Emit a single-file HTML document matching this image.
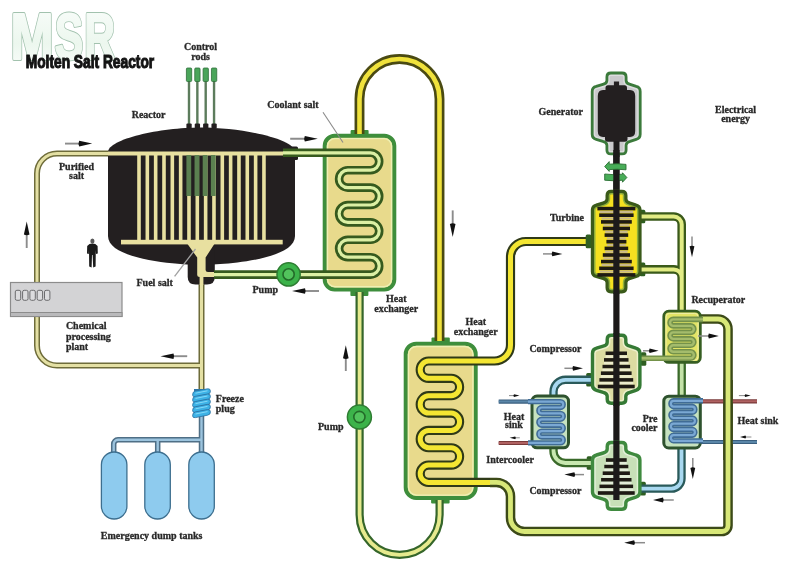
<!DOCTYPE html>
<html><head><meta charset="utf-8"><style>
html,body{margin:0;padding:0;background:#fff;width:810px;height:576px;overflow:hidden;font-family:"Liberation Serif",serif;}
svg{display:block;will-change:transform;}
</style></head><body>
<svg width="810" height="576" viewBox="0 0 810 576">
<rect width="810" height="576" fill="#ffffff"/>
<defs><linearGradient id="msrg" x1="0" y1="0" x2="0" y2="1"><stop offset="0" stop-color="#fafdfb"/><stop offset="0.6" stop-color="#ecf7ee"/><stop offset="1" stop-color="#fbfdfb"/></linearGradient></defs>
<g transform="translate(10.52,58.64) scale(0.876,1.09)" font-family="Liberation Sans" font-weight="bold" font-size="59">
<text x="0" y="0" fill="none" stroke="#a2c2ae" stroke-width="3.6" stroke-linejoin="round">M</text>
<text x="0" y="0" fill="url(#msrg)" stroke="url(#msrg)" stroke-width="1.9" stroke-linejoin="round">M</text>
</g>
<g transform="translate(54.67,58.64) scale(0.724,1.09)" font-family="Liberation Sans" font-weight="bold" font-size="59">
<text x="0" y="0" fill="none" stroke="#a2c2ae" stroke-width="3.6" stroke-linejoin="round">S</text>
<text x="0" y="0" fill="url(#msrg)" stroke="url(#msrg)" stroke-width="1.9" stroke-linejoin="round">S</text>
</g>
<g transform="translate(84.14,58.64) scale(0.724,1.09)" font-family="Liberation Sans" font-weight="bold" font-size="59">
<text x="0" y="0" fill="none" stroke="#a2c2ae" stroke-width="3.6" stroke-linejoin="round">R</text>
<text x="0" y="0" fill="url(#msrg)" stroke="url(#msrg)" stroke-width="1.9" stroke-linejoin="round">R</text>
</g>
<text x="0" y="0" transform="translate(25.7,68) scale(0.765,1)" font-family="Liberation Sans" font-weight="bold" font-size="18" fill="#141414" stroke="#141414" stroke-width="1.1">Molten Salt Reactor</text>
<path d="M120,153.5 H57 A20,20 0 0 0 37,173.5 V345.5 A20,20 0 0 0 57,365.5 H201.5 M201.5,258 V390" fill="none" stroke="#6e6c3a" stroke-width="6" />
<path d="M120,153.5 H57 A20,20 0 0 0 37,173.5 V345.5 A20,20 0 0 0 57,365.5 H201.5 M201.5,258 V390" fill="none" stroke="#e4e0a4" stroke-width="3" />
<ellipse cx="92.4" cy="240.9" rx="2.1" ry="2.5" fill="#5a5a5a"/>
<path d="M89.5,244 Q92.4,242.8 95.3,244 L97.6,246 L97.8,253.5 L96,254 L95.8,250 L95.6,266.5 L93.2,267.5 L92.6,255 L92,255 L91.6,267.5 L89.2,266.5 L89,250 L88.8,254 L87,253.5 L87.2,246 Z" fill="#1a1a1a"/>
<rect x="10.5" y="282.5" width="111.5" height="34" fill="#d3d3d5" stroke="#8c8c8c" stroke-width="1.2"/>
<rect x="10.5" y="312.5" width="111.5" height="4" fill="#b9b9bb" stroke="#8c8c8c" stroke-width="1"/>
<rect x="15.3" y="290.3" width="5.4" height="10" rx="1.6" fill="#dcdcde" stroke="#6c6c6e" stroke-width="1"/>
<rect x="22.6" y="290.3" width="5.4" height="10" rx="1.6" fill="#dcdcde" stroke="#6c6c6e" stroke-width="1"/>
<rect x="29.9" y="290.3" width="5.4" height="10" rx="1.6" fill="#dcdcde" stroke="#6c6c6e" stroke-width="1"/>
<rect x="37.2" y="290.3" width="5.4" height="10" rx="1.6" fill="#dcdcde" stroke="#6c6c6e" stroke-width="1"/>
<rect x="44.5" y="290.3" width="5.4" height="10" rx="1.6" fill="#dcdcde" stroke="#6c6c6e" stroke-width="1"/>
<path d="M201.5,414 V440 M201.5,439.8 H118 A4.5,4.5 0 0 0 113.7,444.3 V454 M157.7,439.8 V454 M201.5,440 V454" fill="none" stroke="#4f6f86" stroke-width="5.5" />
<path d="M201.5,414 V440 M201.5,439.8 H118 A4.5,4.5 0 0 0 113.7,444.3 V454 M157.7,439.8 V454 M201.5,440 V454" fill="none" stroke="#9cc4de" stroke-width="2.4" />
<rect x="101.4" y="452" width="25.5" height="67" rx="12.7" fill="#8ecbee" stroke="#3d6f8f" stroke-width="1.3"/>
<rect x="144.8" y="452" width="25.5" height="67" rx="12.7" fill="#8ecbee" stroke="#3d6f8f" stroke-width="1.3"/>
<rect x="188.8" y="452" width="25.5" height="67" rx="12.7" fill="#8ecbee" stroke="#3d6f8f" stroke-width="1.3"/>
<rect x="194" y="389" width="15" height="25" fill="#2f78a8"/>
<path d="M192.6,395.1 Q192.4,391.6 195.5,391.1 L207.5,388.8 Q210.4,388.3 210.4,391.1 Q210.6,393.8 207.5,394.4 L195.5,396.8 Q192.7,397.4 192.6,395.1 Z" fill="#3db2e6" stroke="#2b6f9f" stroke-width="0.8"/>
<path d="M195.5,393.2 L207.5,390.8" stroke="#8edcf8" stroke-width="0.9"/>
<path d="M192.6,400.3 Q192.4,396.8 195.5,396.3 L207.5,394.0 Q210.4,393.5 210.4,396.3 Q210.6,399.0 207.5,399.6 L195.5,402.0 Q192.7,402.6 192.6,400.3 Z" fill="#3db2e6" stroke="#2b6f9f" stroke-width="0.8"/>
<path d="M195.5,398.4 L207.5,396.0" stroke="#8edcf8" stroke-width="0.9"/>
<path d="M192.6,405.5 Q192.4,402.0 195.5,401.5 L207.5,399.2 Q210.4,398.7 210.4,401.5 Q210.6,404.2 207.5,404.8 L195.5,407.2 Q192.7,407.8 192.6,405.5 Z" fill="#3db2e6" stroke="#2b6f9f" stroke-width="0.8"/>
<path d="M195.5,403.6 L207.5,401.2" stroke="#8edcf8" stroke-width="0.9"/>
<path d="M192.6,410.7 Q192.4,407.2 195.5,406.7 L207.5,404.4 Q210.4,403.9 210.4,406.7 Q210.6,409.4 207.5,410.0 L195.5,412.4 Q192.7,413.0 192.6,410.7 Z" fill="#3db2e6" stroke="#2b6f9f" stroke-width="0.8"/>
<path d="M195.5,408.8 L207.5,406.4" stroke="#8edcf8" stroke-width="0.9"/>
<path d="M192.6,415.9 Q192.4,412.4 195.5,411.9 L207.5,409.6 Q210.4,409.1 210.4,411.9 Q210.6,414.6 207.5,415.2 L195.5,417.6 Q192.7,418.2 192.6,415.9 Z" fill="#3db2e6" stroke="#2b6f9f" stroke-width="0.8"/>
<path d="M195.5,414.0 L207.5,411.6" stroke="#8edcf8" stroke-width="0.9"/>
<path d="M108,152 C108,139 160,127.4 201,127.4 C242,127.4 295,139 295,152 L295,236 C295,263 206,265 201,265 C196,265 108,263 108,236 Z" fill="#231f20"/>
<path d="M187.7,250 H214.8 V277 Q214.8,284.5 207,284.5 H195.5 Q187.7,284.5 187.7,277 Z" fill="#231f20"/>
<rect x="108" y="151.5" width="176" height="4" fill="#e8e0a0"/>
<rect x="137.20" y="154" width="3.6" height="88" fill="#e8e0a0"/>
<rect x="145.53" y="154" width="3.6" height="88" fill="#e8e0a0"/>
<rect x="153.86" y="154" width="3.6" height="88" fill="#e8e0a0"/>
<rect x="162.19" y="154" width="3.6" height="88" fill="#e8e0a0"/>
<rect x="170.52" y="154" width="3.6" height="88" fill="#e8e0a0"/>
<rect x="178.85" y="154" width="3.6" height="88" fill="#e8e0a0"/>
<rect x="187.18" y="154" width="3.6" height="88" fill="#e8e0a0"/>
<rect x="195.51" y="154" width="3.6" height="88" fill="#e8e0a0"/>
<rect x="203.84" y="154" width="3.6" height="88" fill="#e8e0a0"/>
<rect x="212.17" y="154" width="3.6" height="88" fill="#e8e0a0"/>
<rect x="220.50" y="154" width="3.6" height="88" fill="#e8e0a0"/>
<rect x="228.83" y="154" width="3.6" height="88" fill="#e8e0a0"/>
<rect x="237.16" y="154" width="3.6" height="88" fill="#e8e0a0"/>
<rect x="245.49" y="154" width="3.6" height="88" fill="#e8e0a0"/>
<rect x="253.82" y="154" width="3.6" height="88" fill="#e8e0a0"/>
<rect x="262.15" y="154" width="3.6" height="88" fill="#e8e0a0"/>
<rect x="121" y="239.8" width="161.7" height="4.6" fill="#e8e0a0"/>
<path d="M186.8,243 H215 L205.6,257.5 V270 Q205.6,272 208,272 H215 V277 H203.4 V285 H199.6 V277 Q197.2,277 197.2,275 V257.5 Z" fill="#e8e0a0"/>
<rect x="186.40" y="155" width="4.8" height="41" fill="#5b8050"/>
<rect x="194.55" y="155" width="4.8" height="41" fill="#5b8050"/>
<rect x="202.70" y="155" width="4.8" height="41" fill="#5b8050"/>
<rect x="210.85" y="155" width="4.8" height="41" fill="#5b8050"/>
<rect x="187.80" y="80" width="2.4" height="45" fill="#5c7c5c"/>
<rect x="186.40" y="68" width="5.3" height="13.5" rx="1" fill="#4aa55a" stroke="#2f6e3a" stroke-width="0.8"/>
<rect x="186.40" y="123.5" width="5.3" height="5" rx="1" fill="#231f20"/>
<rect x="196.15" y="80" width="2.4" height="45" fill="#5c7c5c"/>
<rect x="194.75" y="68" width="5.3" height="13.5" rx="1" fill="#4aa55a" stroke="#2f6e3a" stroke-width="0.8"/>
<rect x="194.75" y="123.5" width="5.3" height="5" rx="1" fill="#231f20"/>
<rect x="204.50" y="80" width="2.4" height="45" fill="#5c7c5c"/>
<rect x="203.10" y="68" width="5.3" height="13.5" rx="1" fill="#4aa55a" stroke="#2f6e3a" stroke-width="0.8"/>
<rect x="203.10" y="123.5" width="5.3" height="5" rx="1" fill="#231f20"/>
<rect x="212.85" y="80" width="2.4" height="45" fill="#5c7c5c"/>
<rect x="211.45" y="68" width="5.3" height="13.5" rx="1" fill="#4aa55a" stroke="#2f6e3a" stroke-width="0.8"/>
<rect x="211.45" y="123.5" width="5.3" height="5" rx="1" fill="#231f20"/>
<rect x="289" y="146.5" width="9" height="13.5" rx="1.5" fill="#231f20"/>
<rect x="350.6" y="130.1" width="18.0" height="9.9" rx="1" fill="#3c8e3a"/>
<rect x="350.4" y="287" width="18.0" height="9.0" rx="1" fill="#3c8e3a"/>
<rect x="431.5" y="337.4" width="18.3" height="9.6" rx="1" fill="#3c8e3a"/>
<rect x="431.1" y="494" width="18.5" height="9.6" rx="1" fill="#3c8e3a"/>
<rect x="324.7" y="135.8" width="69.6" height="153.8" rx="10" fill="#e8da8c" stroke="#3e8e3c" stroke-width="4"/>
<rect x="327.5" y="138.6" width="64" height="148.2" rx="7.5" fill="none" stroke="#eef0b4" stroke-width="1.4"/>
<path d="M283,152.80 H370.50 A8.70,8.70 0 0 1 370.50,170.20 H347.80 A8.70,8.70 0 0 0 347.80,187.60 H370.50 A8.70,8.70 0 0 1 370.50,205.00 H347.80 A8.70,8.70 0 0 0 347.80,222.40 H370.50 A8.70,8.70 0 0 1 370.50,239.80 H347.80 A8.70,8.70 0 0 0 347.80,257.20 H370.50 A8.70,8.70 0 0 1 370.50,274.60 H214" fill="none" stroke="#365a1e" stroke-width="8.6" />
<path d="M283,152.80 H370.50 A8.70,8.70 0 0 1 370.50,170.20 H347.80 A8.70,8.70 0 0 0 347.80,187.60 H370.50 A8.70,8.70 0 0 1 370.50,205.00 H347.80 A8.70,8.70 0 0 0 347.80,222.40 H370.50 A8.70,8.70 0 0 1 370.50,239.80 H347.80 A8.70,8.70 0 0 0 347.80,257.20 H370.50 A8.70,8.70 0 0 1 370.50,274.60 H214" fill="none" stroke="#dcf0a4" stroke-width="3.2" />
<circle cx="288.6" cy="274.4" r="11.6" fill="#3cb34a" stroke="#2e7d32" stroke-width="1.5"/>
<circle cx="288.6" cy="274.4" r="5.6" fill="#52c35c" stroke="#236b29" stroke-width="1.6"/>
<path d="M359.5,134 V99 A40,40 0 0 1 439.5,99 V341" fill="none" stroke="#4a4a12" stroke-width="9.9" />
<path d="M359.5,134 V99 A40,40 0 0 1 439.5,99 V341" fill="none" stroke="#f0e23c" stroke-width="4.6" />
<path d="M439.6,500 V514.8 A40,40 0 0 1 359.6,514.8 V292" fill="none" stroke="#35662a" stroke-width="8.2" />
<path d="M439.6,500 V514.8 A40,40 0 0 1 359.6,514.8 V292" fill="none" stroke="#e6ea8e" stroke-width="3.8" />
<circle cx="359.4" cy="417" r="12" fill="#3cb34a" stroke="#2e7d32" stroke-width="1.5"/>
<circle cx="359.4" cy="417" r="5.6" fill="#52c35c" stroke="#236b29" stroke-width="1.6"/>
<rect x="405.7" y="343.7" width="70" height="154.2" rx="10.5" fill="#e8da8c" stroke="#3e8e3c" stroke-width="4"/>
<rect x="408.5" y="346.5" width="64.4" height="148.6" rx="8" fill="none" stroke="#eef0b4" stroke-width="1.4"/>
<path d="M490,482.45 H496.5 A14,14 0 0 1 510.5,496.45 V517.5 A14,14 0 0 0 524.5,531.5 H722 A6,6 0 0 0 728,525.5 V329 A10,10 0 0 0 718,319 H695" fill="none" stroke="#3c4a18" stroke-width="9.6" />
<path d="M490,482.45 H496.5 A14,14 0 0 1 510.5,496.45 V517.5 A14,14 0 0 0 524.5,531.5 H722 A6,6 0 0 0 728,525.5 V329 A10,10 0 0 0 718,319 H695" fill="none" stroke="#d8e878" stroke-width="4.8" />
<path d="M590,241.5 H526 A15.5,15.5 0 0 0 510.5,257 V345 A16,16 0 0 1 494.5,361 H428.6 A8.68,8.68 0 0 0 428.60,378.35 H451.20 A8.68,8.68 0 0 1 451.20,395.70 H428.60 A8.68,8.68 0 0 0 428.60,413.05 H451.20 A8.68,8.68 0 0 1 451.20,430.40 H428.60 A8.68,8.68 0 0 0 428.60,447.75 H451.20 A8.68,8.68 0 0 1 451.20,465.10 H428.60 A8.68,8.68 0 0 0 428.60,482.45 H490" fill="none" stroke="#2f3a18" stroke-width="9.2" />
<path d="M590,241.5 H526 A15.5,15.5 0 0 0 510.5,257 V345 A16,16 0 0 1 494.5,361 H428.6 A8.68,8.68 0 0 0 428.60,378.35 H451.20 A8.68,8.68 0 0 1 451.20,395.70 H428.60 A8.68,8.68 0 0 0 428.60,413.05 H451.20 A8.68,8.68 0 0 1 451.20,430.40 H428.60 A8.68,8.68 0 0 0 428.60,447.75 H451.20 A8.68,8.68 0 0 1 451.20,465.10 H428.60 A8.68,8.68 0 0 0 428.60,482.45 H490" fill="none" stroke="#f4e632" stroke-width="5.0" />
<rect x="585.7" y="234.6" width="5.6" height="13.6" rx="1.5" fill="#2f5f22"/>
<rect x="639.7" y="209.7" width="5.6" height="13.6" rx="1.5" fill="#2f5f22"/>
<rect x="639.7" y="262.6" width="5.6" height="13.6" rx="1.5" fill="#2f5f22"/>
<rect x="586.2" y="373.0" width="5.6" height="13.6" rx="1.5" fill="#2f5f22"/>
<rect x="640.7" y="352.2" width="5.6" height="13.6" rx="1.5" fill="#2f5f22"/>
<rect x="586.7" y="456.2" width="5.6" height="13.6" rx="1.5" fill="#2f5f22"/>
<rect x="640.2" y="481.8" width="5.6" height="13.6" rx="1.5" fill="#2f5f22"/>
<path d="M641,216.5 H673.7 A8,8 0 0 1 681.7,224.5 V312 M641,269.4 H673.7 A8,8 0 0 1 681.7,277.4 V285" fill="none" stroke="#3a5a1a" stroke-width="8.6"/>
<path d="M641,216.5 H673.7 A8,8 0 0 1 681.7,224.5 V312 M641,269.4 H673.7 A8,8 0 0 1 681.7,277.4 V285" fill="none" stroke="#e2ec84" stroke-width="4"/>
<path d="M681.7,362 V396" fill="none" stroke="#3a6a2a" stroke-width="8.4" />
<path d="M681.7,362 V396" fill="none" stroke="#c4e2a8" stroke-width="3.8" />
<path d="M681.5,448 V478.6 A10,10 0 0 1 671.5,488.6 H641" fill="none" stroke="#2a5a5a" stroke-width="8.4" />
<path d="M681.5,448 V478.6 A10,10 0 0 1 671.5,488.6 H641" fill="none" stroke="#a8d8f0" stroke-width="3.8" />
<path d="M553.5,396 V391.8 A12,12 0 0 1 565.5,379.8 H592" fill="none" stroke="#2a5a5a" stroke-width="8.4" />
<path d="M553.5,396 V391.8 A12,12 0 0 1 565.5,379.8 H592" fill="none" stroke="#a8d8f0" stroke-width="3.8" />
<path d="M553.5,448 V451 A12,12 0 0 0 565.5,463 H592" fill="none" stroke="#3a6a2a" stroke-width="8.4" />
<path d="M553.5,448 V451 A12,12 0 0 0 565.5,463 H592" fill="none" stroke="#c8e8b0" stroke-width="3.8" />
<path d="M498.7,401.6 H536" fill="none" stroke="#3a5f7f" stroke-width="4.2" />
<path d="M498.7,401.6 H536" fill="none" stroke="#5a86a8" stroke-width="2" />
<path d="M498.7,443 H536" fill="none" stroke="#7a3a3a" stroke-width="4.2" />
<path d="M498.7,443 H536" fill="none" stroke="#b06262" stroke-width="2" />
<path d="M698,401.3 H757" fill="none" stroke="#7a3a3a" stroke-width="4.2" />
<path d="M698,401.3 H757" fill="none" stroke="#b06262" stroke-width="2" />
<path d="M698,442 H757" fill="none" stroke="#3a5f7f" stroke-width="4.2" />
<path d="M698,442 H757" fill="none" stroke="#5a86a8" stroke-width="2" />
<path d="M728,380 V460" fill="none" stroke="#3c4a18" stroke-width="9.6" />
<path d="M728,380 V460" fill="none" stroke="#d8e878" stroke-width="4.8" />
<rect x="663.8" y="311.2" width="36.5" height="51.2" rx="5" fill="#e2e466" stroke="#365e22" stroke-width="2.8"/>
<rect x="666" y="313.4" width="32.1" height="46.8" rx="3.5" fill="none" stroke="#f0f0a8" stroke-width="1"/>
<path d="M703,319.40 H673.30 A3.24,3.24 0 0 0 673.30,325.88 H690.60 A3.24,3.24 0 0 1 690.60,332.36 H673.30 A3.24,3.24 0 0 0 673.30,338.84 H690.60 A3.24,3.24 0 0 1 690.60,345.32 H673.30 A3.24,3.24 0 0 0 673.30,351.80 H690.60 A3.24,3.24 0 0 1 690.60,358.28 H641" fill="none" stroke="#74924a" stroke-width="5.6" />
<path d="M703,319.40 H673.30 A3.24,3.24 0 0 0 673.30,325.88 H690.60 A3.24,3.24 0 0 1 690.60,332.36 H673.30 A3.24,3.24 0 0 0 673.30,338.84 H690.60 A3.24,3.24 0 0 1 690.60,345.32 H673.30 A3.24,3.24 0 0 0 673.30,351.80 H690.60 A3.24,3.24 0 0 1 690.60,358.28 H641" fill="none" stroke="#a4bc6c" stroke-width="2.4" />
<rect x="663.8" y="396.2" width="36.5" height="51.7" rx="5" fill="#c6e2c0" stroke="#2e522e" stroke-width="3"/>
<path d="M703,400.80 H673.60 A2.87,2.87 0 0 0 673.60,406.53 H692.20 A2.87,2.87 0 0 1 692.20,412.26 H673.60 A2.87,2.87 0 0 0 673.60,417.99 H692.20 A2.87,2.87 0 0 1 692.20,423.72 H673.60 A2.87,2.87 0 0 0 673.60,429.45 H692.20 A2.87,2.87 0 0 1 692.20,435.18 H673.60 A2.87,2.87 0 0 0 673.60,440.91 H703" fill="none" stroke="#406c96" stroke-width="5.4" />
<path d="M703,400.80 H673.60 A2.87,2.87 0 0 0 673.60,406.53 H692.20 A2.87,2.87 0 0 1 692.20,412.26 H673.60 A2.87,2.87 0 0 0 673.60,417.99 H692.20 A2.87,2.87 0 0 1 692.20,423.72 H673.60 A2.87,2.87 0 0 0 673.60,429.45 H692.20 A2.87,2.87 0 0 1 692.20,435.18 H673.60 A2.87,2.87 0 0 0 673.60,440.91 H703" fill="none" stroke="#7aa8d4" stroke-width="2.2" />
<rect x="532" y="396" width="36.5" height="51.8" rx="5" fill="#c6e2c0" stroke="#2e522e" stroke-width="3"/>
<path d="M528,401.60 H560.30 A2.95,2.95 0 0 1 560.30,407.50 H541.80 A2.95,2.95 0 0 0 541.80,413.40 H560.30 A2.95,2.95 0 0 1 560.30,419.30 H541.80 A2.95,2.95 0 0 0 541.80,425.20 H560.30 A2.95,2.95 0 0 1 560.30,431.10 H541.80 A2.95,2.95 0 0 0 541.80,437.00 H560.30 A2.95,2.95 0 0 1 560.30,442.90 H528" fill="none" stroke="#406c96" stroke-width="5.4" />
<path d="M528,401.60 H560.30 A2.95,2.95 0 0 1 560.30,407.50 H541.80 A2.95,2.95 0 0 0 541.80,413.40 H560.30 A2.95,2.95 0 0 1 560.30,419.30 H541.80 A2.95,2.95 0 0 0 541.80,425.20 H560.30 A2.95,2.95 0 0 1 560.30,431.10 H541.80 A2.95,2.95 0 0 0 541.80,437.00 H560.30 A2.95,2.95 0 0 1 560.30,442.90 H528" fill="none" stroke="#7aa8d4" stroke-width="2.2" />
<rect x="613.3" y="150" width="6.2" height="350" fill="#1c1a1a"/>
<clipPath id="cas1"><path d="M606.9,77.0 Q606.9,73.0 610.9,73.0 H622.1 Q626.1,73.0 626.1,77.0 V80.4 Q626.1,83.4 630.1,84.4 L636.2,86.4 Q640.2,87.4 640.2,91.4 V134.29999999999998 Q640.2,138.29999999999998 636.2,139.29999999999998 L630.1,141.29999999999998 Q626.1,142.29999999999998 626.1,145.29999999999998 V149.9 Q626.1,153.9 622.1,153.9 H610.9 Q606.9,153.9 606.9,149.9 V145.29999999999998 Q606.9,142.29999999999998 602.9,141.29999999999998 L596.1999999999999,139.29999999999998 Q592.1999999999999,138.29999999999998 592.1999999999999,134.29999999999998 V91.4 Q592.1999999999999,87.4 596.1999999999999,86.4 L602.9,84.4 Q606.9,83.4 606.9,80.4 Z"/></clipPath>
<path d="M606.9,77.0 Q606.9,73.0 610.9,73.0 H622.1 Q626.1,73.0 626.1,77.0 V80.4 Q626.1,83.4 630.1,84.4 L636.2,86.4 Q640.2,87.4 640.2,91.4 V134.29999999999998 Q640.2,138.29999999999998 636.2,139.29999999999998 L630.1,141.29999999999998 Q626.1,142.29999999999998 626.1,145.29999999999998 V149.9 Q626.1,153.9 622.1,153.9 H610.9 Q606.9,153.9 606.9,149.9 V145.29999999999998 Q606.9,142.29999999999998 602.9,141.29999999999998 L596.1999999999999,139.29999999999998 Q592.1999999999999,138.29999999999998 592.1999999999999,134.29999999999998 V91.4 Q592.1999999999999,87.4 596.1999999999999,86.4 L602.9,84.4 Q606.9,83.4 606.9,80.4 Z" fill="#c9c9cb"/>
<path d="M606.9,77.0 Q606.9,73.0 610.9,73.0 H622.1 Q626.1,73.0 626.1,77.0 V80.4 Q626.1,83.4 630.1,84.4 L636.2,86.4 Q640.2,87.4 640.2,91.4 V134.29999999999998 Q640.2,138.29999999999998 636.2,139.29999999999998 L630.1,141.29999999999998 Q626.1,142.29999999999998 626.1,145.29999999999998 V149.9 Q626.1,153.9 622.1,153.9 H610.9 Q606.9,153.9 606.9,149.9 V145.29999999999998 Q606.9,142.29999999999998 602.9,141.29999999999998 L596.1999999999999,139.29999999999998 Q592.1999999999999,138.29999999999998 592.1999999999999,134.29999999999998 V91.4 Q592.1999999999999,87.4 596.1999999999999,86.4 L602.9,84.4 Q606.9,83.4 606.9,80.4 Z" fill="none" stroke="#dcdcde" stroke-width="5.8" clip-path="url(#cas1)" stroke-linejoin="round"/>
<path d="M606.9,77.0 Q606.9,73.0 610.9,73.0 H622.1 Q626.1,73.0 626.1,77.0 V80.4 Q626.1,83.4 630.1,84.4 L636.2,86.4 Q640.2,87.4 640.2,91.4 V134.29999999999998 Q640.2,138.29999999999998 636.2,139.29999999999998 L630.1,141.29999999999998 Q626.1,142.29999999999998 626.1,145.29999999999998 V149.9 Q626.1,153.9 622.1,153.9 H610.9 Q606.9,153.9 606.9,149.9 V145.29999999999998 Q606.9,142.29999999999998 602.9,141.29999999999998 L596.1999999999999,139.29999999999998 Q592.1999999999999,138.29999999999998 592.1999999999999,134.29999999999998 V91.4 Q592.1999999999999,87.4 596.1999999999999,86.4 L602.9,84.4 Q606.9,83.4 606.9,80.4 Z" fill="none" stroke="#3b7a3b" stroke-width="2.8" stroke-linejoin="round"/>
<path d="M597.8,96 Q597.8,90 603,90 H605.5 V88 Q605.5,85.3 608,85.3 H613.9 V81.6 H619.1 V85.3 H624.5 Q627,85.3 627,88 V90 H630 Q635.2,90 635.2,96 V131 Q635.2,136.9 630,136.9 H627.5 V139 Q627.5,141.7 625,141.7 H607.5 Q605,141.7 605,139 V136.9 H603 Q597.8,136.9 597.8,131 Z" fill="#231f20"/>
<rect x="613.5" y="141" width="6" height="16" fill="#1c1a1a"/>
<path d="M626.9,177.5 L622.5,172.8 L622.5,174.2 Q614,175.3 604.7,174 L604.7,180.2 Q614,181.3 622.5,180.2 L622.5,182.2 Z" fill="#48ad58" stroke="#2b6e34" stroke-width="0.9" stroke-linejoin="round"/>
<rect x="613.3" y="150" width="6.2" height="40" fill="#1c1a1a"/>
<path d="M604.7,166.5 L609.2,161.6 L609.2,164.2 Q617,163.2 626,164.4 L626,169.8 Q617,168.7 609.2,169.6 L609.2,171.4 Z" fill="#48ad58" stroke="#2b6e34" stroke-width="0.9" stroke-linejoin="round"/>
<clipPath id="cas2"><path d="M607.1,195.4 Q607.1,191.4 611.1,191.4 H621.9 Q625.9,191.4 625.9,195.4 V199.1 Q625.9,202.1 629.9,203.1 L636.0,205.1 Q640.0,206.1 640.0,210.1 V271.4 Q640.0,275.4 636.0,276.4 L629.9,278.4 Q625.9,279.4 625.9,282.4 V287.79999999999995 Q625.9,291.79999999999995 621.9,291.79999999999995 H611.1 Q607.1,291.79999999999995 607.1,287.79999999999995 V282.4 Q607.1,279.4 603.1,278.4 L596.4,276.4 Q592.4,275.4 592.4,271.4 V210.1 Q592.4,206.1 596.4,205.1 L603.1,203.1 Q607.1,202.1 607.1,199.1 Z"/></clipPath>
<path d="M607.1,195.4 Q607.1,191.4 611.1,191.4 H621.9 Q625.9,191.4 625.9,195.4 V199.1 Q625.9,202.1 629.9,203.1 L636.0,205.1 Q640.0,206.1 640.0,210.1 V271.4 Q640.0,275.4 636.0,276.4 L629.9,278.4 Q625.9,279.4 625.9,282.4 V287.79999999999995 Q625.9,291.79999999999995 621.9,291.79999999999995 H611.1 Q607.1,291.79999999999995 607.1,287.79999999999995 V282.4 Q607.1,279.4 603.1,278.4 L596.4,276.4 Q592.4,275.4 592.4,271.4 V210.1 Q592.4,206.1 596.4,205.1 L603.1,203.1 Q607.1,202.1 607.1,199.1 Z" fill="#f5e020"/>
<path d="M607.1,195.4 Q607.1,191.4 611.1,191.4 H621.9 Q625.9,191.4 625.9,195.4 V199.1 Q625.9,202.1 629.9,203.1 L636.0,205.1 Q640.0,206.1 640.0,210.1 V271.4 Q640.0,275.4 636.0,276.4 L629.9,278.4 Q625.9,279.4 625.9,282.4 V287.79999999999995 Q625.9,291.79999999999995 621.9,291.79999999999995 H611.1 Q607.1,291.79999999999995 607.1,287.79999999999995 V282.4 Q607.1,279.4 603.1,278.4 L596.4,276.4 Q592.4,275.4 592.4,271.4 V210.1 Q592.4,206.1 596.4,205.1 L603.1,203.1 Q607.1,202.1 607.1,199.1 Z" fill="none" stroke="#90b03a" stroke-width="6.2" clip-path="url(#cas2)" stroke-linejoin="round"/>
<path d="M607.1,195.4 Q607.1,191.4 611.1,191.4 H621.9 Q625.9,191.4 625.9,195.4 V199.1 Q625.9,202.1 629.9,203.1 L636.0,205.1 Q640.0,206.1 640.0,210.1 V271.4 Q640.0,275.4 636.0,276.4 L629.9,278.4 Q625.9,279.4 625.9,282.4 V287.79999999999995 Q625.9,291.79999999999995 621.9,291.79999999999995 H611.1 Q607.1,291.79999999999995 607.1,287.79999999999995 V282.4 Q607.1,279.4 603.1,278.4 L596.4,276.4 Q592.4,275.4 592.4,271.4 V210.1 Q592.4,206.1 596.4,205.1 L603.1,203.1 Q607.1,202.1 607.1,199.1 Z" fill="none" stroke="#3a5a1a" stroke-width="3.2" stroke-linejoin="round"/>
<rect x="597.4" y="206.8" width="38.0" height="3.6" fill="#1e1a14"/>
<rect x="599.8" y="210.8" width="33.2" height="2.2" fill="#c9b98a"/>
<rect x="599.2" y="213.4" width="34.4" height="3.6" fill="#1e1a14"/>
<rect x="601.6" y="217.4" width="29.6" height="2.2" fill="#c9b98a"/>
<rect x="601.0" y="220.1" width="30.8" height="3.6" fill="#1e1a14"/>
<rect x="603.4" y="224.1" width="26.0" height="2.2" fill="#c9b98a"/>
<rect x="602.8" y="226.7" width="27.2" height="3.6" fill="#1e1a14"/>
<rect x="605.2" y="230.7" width="22.4" height="2.2" fill="#c9b98a"/>
<rect x="604.6" y="233.3" width="23.6" height="3.6" fill="#1e1a14"/>
<rect x="607.0" y="237.3" width="18.8" height="2.2" fill="#c9b98a"/>
<rect x="606.4" y="239.9" width="20.0" height="3.6" fill="#1e1a14"/>
<rect x="607.0" y="244.0" width="18.8" height="2.2" fill="#c9b98a"/>
<rect x="604.6" y="246.6" width="23.6" height="3.6" fill="#1e1a14"/>
<rect x="605.2" y="250.6" width="22.4" height="2.2" fill="#c9b98a"/>
<rect x="602.8" y="253.2" width="27.2" height="3.6" fill="#1e1a14"/>
<rect x="603.4" y="257.2" width="26.0" height="2.2" fill="#c9b98a"/>
<rect x="601.0" y="259.8" width="30.8" height="3.6" fill="#1e1a14"/>
<rect x="601.6" y="263.8" width="29.6" height="2.2" fill="#c9b98a"/>
<rect x="599.2" y="266.5" width="34.4" height="3.6" fill="#1e1a14"/>
<rect x="599.8" y="270.5" width="33.2" height="2.2" fill="#c9b98a"/>
<rect x="597.4" y="273.1" width="38.0" height="3.6" fill="#1e1a14"/>
<rect x="613.3" y="190" width="6.2" height="104" fill="#1c1a1a"/>
<clipPath id="cas3"><path d="M607.2,339.2 Q607.2,335.2 611.2,335.2 H621.8 Q625.8,335.2 625.8,339.2 V342.2 Q625.8,345.2 629.8,346.2 L635.9,348.2 Q639.9,349.2 639.9,353.2 V385.3 Q639.9,389.3 635.9,390.3 L629.8,392.3 Q625.8,393.3 625.8,396.3 V399.3 Q625.8,403.3 621.8,403.3 H611.2 Q607.2,403.3 607.2,399.3 V396.3 Q607.2,393.3 603.2,392.3 L596.5,390.3 Q592.5,389.3 592.5,385.3 V353.2 Q592.5,349.2 596.5,348.2 L603.2,346.2 Q607.2,345.2 607.2,342.2 Z"/></clipPath>
<path d="M607.2,339.2 Q607.2,335.2 611.2,335.2 H621.8 Q625.8,335.2 625.8,339.2 V342.2 Q625.8,345.2 629.8,346.2 L635.9,348.2 Q639.9,349.2 639.9,353.2 V385.3 Q639.9,389.3 635.9,390.3 L629.8,392.3 Q625.8,393.3 625.8,396.3 V399.3 Q625.8,403.3 621.8,403.3 H611.2 Q607.2,403.3 607.2,399.3 V396.3 Q607.2,393.3 603.2,392.3 L596.5,390.3 Q592.5,389.3 592.5,385.3 V353.2 Q592.5,349.2 596.5,348.2 L603.2,346.2 Q607.2,345.2 607.2,342.2 Z" fill="#dcdca2"/>
<path d="M607.2,339.2 Q607.2,335.2 611.2,335.2 H621.8 Q625.8,335.2 625.8,339.2 V342.2 Q625.8,345.2 629.8,346.2 L635.9,348.2 Q639.9,349.2 639.9,353.2 V385.3 Q639.9,389.3 635.9,390.3 L629.8,392.3 Q625.8,393.3 625.8,396.3 V399.3 Q625.8,403.3 621.8,403.3 H611.2 Q607.2,403.3 607.2,399.3 V396.3 Q607.2,393.3 603.2,392.3 L596.5,390.3 Q592.5,389.3 592.5,385.3 V353.2 Q592.5,349.2 596.5,348.2 L603.2,346.2 Q607.2,345.2 607.2,342.2 Z" fill="none" stroke="#eef0cc" stroke-width="6.4" clip-path="url(#cas3)" stroke-linejoin="round"/>
<path d="M607.2,339.2 Q607.2,335.2 611.2,335.2 H621.8 Q625.8,335.2 625.8,339.2 V342.2 Q625.8,345.2 629.8,346.2 L635.9,348.2 Q639.9,349.2 639.9,353.2 V385.3 Q639.9,389.3 635.9,390.3 L629.8,392.3 Q625.8,393.3 625.8,396.3 V399.3 Q625.8,403.3 621.8,403.3 H611.2 Q607.2,403.3 607.2,399.3 V396.3 Q607.2,393.3 603.2,392.3 L596.5,390.3 Q592.5,389.3 592.5,385.3 V353.2 Q592.5,349.2 596.5,348.2 L603.2,346.2 Q607.2,345.2 607.2,342.2 Z" fill="none" stroke="#357a35" stroke-width="3.4" stroke-linejoin="round"/>
<rect x="605.6" y="351.5" width="21.4" height="3.6" fill="#1e1a14"/>
<rect x="605.6" y="355.3" width="21.4" height="2.6" fill="#ecebcc"/>
<rect x="604.0" y="358.1" width="24.5" height="3.6" fill="#1e1a14"/>
<rect x="604.0" y="361.9" width="24.5" height="2.6" fill="#ecebcc"/>
<rect x="602.5" y="364.8" width="27.6" height="3.6" fill="#1e1a14"/>
<rect x="602.5" y="368.6" width="27.6" height="2.6" fill="#ecebcc"/>
<rect x="600.9" y="371.4" width="30.7" height="3.6" fill="#1e1a14"/>
<rect x="600.9" y="375.2" width="30.7" height="2.6" fill="#ecebcc"/>
<rect x="599.4" y="378.1" width="33.8" height="3.6" fill="#1e1a14"/>
<rect x="599.4" y="381.9" width="33.8" height="2.6" fill="#ecebcc"/>
<rect x="597.8" y="384.7" width="36.9" height="3.6" fill="#1e1a14"/>
<rect x="613.3" y="333" width="6.2" height="73" fill="#1c1a1a"/>
<clipPath id="cas4"><path d="M607.2,446.5 Q607.2,442.5 611.2,442.5 H621.8 Q625.8,442.5 625.8,446.5 V449.0 Q625.8,452.0 629.8,453.0 L635.9,455.0 Q639.9,456.0 639.9,460.0 V492.1 Q639.9,496.1 635.9,497.1 L629.8,499.1 Q625.8,500.1 625.8,503.1 V505.3 Q625.8,509.3 621.8,509.3 H611.2 Q607.2,509.3 607.2,505.3 V503.1 Q607.2,500.1 603.2,499.1 L596.5,497.1 Q592.5,496.1 592.5,492.1 V460.0 Q592.5,456.0 596.5,455.0 L603.2,453.0 Q607.2,452.0 607.2,449.0 Z"/></clipPath>
<path d="M607.2,446.5 Q607.2,442.5 611.2,442.5 H621.8 Q625.8,442.5 625.8,446.5 V449.0 Q625.8,452.0 629.8,453.0 L635.9,455.0 Q639.9,456.0 639.9,460.0 V492.1 Q639.9,496.1 635.9,497.1 L629.8,499.1 Q625.8,500.1 625.8,503.1 V505.3 Q625.8,509.3 621.8,509.3 H611.2 Q607.2,509.3 607.2,505.3 V503.1 Q607.2,500.1 603.2,499.1 L596.5,497.1 Q592.5,496.1 592.5,492.1 V460.0 Q592.5,456.0 596.5,455.0 L603.2,453.0 Q607.2,452.0 607.2,449.0 Z" fill="#c8e0b8"/>
<path d="M607.2,446.5 Q607.2,442.5 611.2,442.5 H621.8 Q625.8,442.5 625.8,446.5 V449.0 Q625.8,452.0 629.8,453.0 L635.9,455.0 Q639.9,456.0 639.9,460.0 V492.1 Q639.9,496.1 635.9,497.1 L629.8,499.1 Q625.8,500.1 625.8,503.1 V505.3 Q625.8,509.3 621.8,509.3 H611.2 Q607.2,509.3 607.2,505.3 V503.1 Q607.2,500.1 603.2,499.1 L596.5,497.1 Q592.5,496.1 592.5,492.1 V460.0 Q592.5,456.0 596.5,455.0 L603.2,453.0 Q607.2,452.0 607.2,449.0 Z" fill="none" stroke="#e2f0d8" stroke-width="6.4" clip-path="url(#cas4)" stroke-linejoin="round"/>
<path d="M607.2,446.5 Q607.2,442.5 611.2,442.5 H621.8 Q625.8,442.5 625.8,446.5 V449.0 Q625.8,452.0 629.8,453.0 L635.9,455.0 Q639.9,456.0 639.9,460.0 V492.1 Q639.9,496.1 635.9,497.1 L629.8,499.1 Q625.8,500.1 625.8,503.1 V505.3 Q625.8,509.3 621.8,509.3 H611.2 Q607.2,509.3 607.2,505.3 V503.1 Q607.2,500.1 603.2,499.1 L596.5,497.1 Q592.5,496.1 592.5,492.1 V460.0 Q592.5,456.0 596.5,455.0 L603.2,453.0 Q607.2,452.0 607.2,449.0 Z" fill="none" stroke="#3f8a3f" stroke-width="3.4" stroke-linejoin="round"/>
<rect x="605.9" y="458.2" width="20.8" height="3.6" fill="#1e1a14"/>
<rect x="605.9" y="462.0" width="20.8" height="2.6" fill="#e2ecd8"/>
<rect x="604.3" y="464.8" width="24.0" height="3.6" fill="#1e1a14"/>
<rect x="604.3" y="468.6" width="24.0" height="2.6" fill="#e2ecd8"/>
<rect x="602.7" y="471.4" width="27.2" height="3.6" fill="#1e1a14"/>
<rect x="602.7" y="475.2" width="27.2" height="2.6" fill="#e2ecd8"/>
<rect x="601.1" y="478.0" width="30.4" height="3.6" fill="#1e1a14"/>
<rect x="601.1" y="481.8" width="30.4" height="2.6" fill="#e2ecd8"/>
<rect x="599.5" y="484.6" width="33.6" height="3.6" fill="#1e1a14"/>
<rect x="599.5" y="488.4" width="33.6" height="2.6" fill="#e2ecd8"/>
<rect x="597.9" y="491.2" width="36.8" height="3.6" fill="#1e1a14"/>
<rect x="613.3" y="441" width="6.2" height="59" fill="#1c1a1a"/>
<line x1="323" y1="112.3" x2="343" y2="142.5" stroke="#8a8a8a" stroke-width="1.1"/>
<line x1="195.5" y1="249" x2="174.6" y2="276.4" stroke="#a0a0a0" stroke-width="1.3"/>
<line x1="65" y1="143.6" x2="80.2" y2="143.6" stroke="#8c8c8c" stroke-width="1.9"/>
<path d="M92.2,143.6 L79.2,146.4 Q77.9,143.6 79.2,140.8 Z" fill="#111"/>
<line x1="290.2" y1="138.75" x2="305.8" y2="138.8" stroke="#8c8c8c" stroke-width="1.9"/>
<path d="M317.8,138.8 L304.8,141.6 Q303.5,138.8 304.8,135.9 Z" fill="#111"/>
<line x1="319" y1="291" x2="304.0" y2="291.0" stroke="#8c8c8c" stroke-width="1.9"/>
<path d="M292.0,291.0 L305.0,288.2 Q306.3,291.0 305.0,293.8 Z" fill="#111"/>
<line x1="26.7" y1="248" x2="26.7" y2="233.5" stroke="#8c8c8c" stroke-width="1.9"/>
<path d="M26.7,221.5 L29.5,234.5 Q26.7,235.8 23.9,234.5 Z" fill="#111"/>
<line x1="187.2" y1="356.2" x2="172.5" y2="356.2" stroke="#8c8c8c" stroke-width="1.9"/>
<path d="M160.5,356.2 L173.5,353.4 Q174.8,356.2 173.5,359.0 Z" fill="#111"/>
<line x1="452.7" y1="210.4" x2="452.7" y2="224.9" stroke="#8c8c8c" stroke-width="1.9"/>
<path d="M452.7,236.9 L449.9,223.9 Q452.7,222.6 455.5,223.9 Z" fill="#111"/>
<line x1="345.8" y1="371" x2="345.8" y2="357.3" stroke="#8c8c8c" stroke-width="1.9"/>
<path d="M345.8,345.3 L348.6,358.3 Q345.8,359.6 343.0,358.3 Z" fill="#111"/>
<line x1="543" y1="253.9" x2="553.4" y2="253.9" stroke="#8c8c8c" stroke-width="1.5"/>
<path d="M562.4,253.9 L552.4,256.3 Q551.1,253.9 552.4,251.5 Z" fill="#111"/>
<line x1="692" y1="236.5" x2="692.0" y2="247.3" stroke="#8c8c8c" stroke-width="1.5"/>
<path d="M692.0,257.3 L689.6,246.3 Q692.0,245.0 694.4,246.3 Z" fill="#111"/>
<line x1="564.4" y1="368.3" x2="574.0" y2="368.3" stroke="#8c8c8c" stroke-width="1.5"/>
<path d="M583.0,368.3 L573.0,370.7 Q571.7,368.3 573.0,365.9 Z" fill="#111"/>
<line x1="584" y1="474.6" x2="573.4" y2="474.6" stroke="#8c8c8c" stroke-width="1.5"/>
<path d="M564.4,474.6 L574.4,472.2 Q575.7,474.6 574.4,477.0 Z" fill="#111"/>
<line x1="643" y1="350.8" x2="650.6" y2="350.8" stroke="#8c8c8c" stroke-width="1.5"/>
<path d="M658.6,350.8 L649.6,353.1 Q648.3,350.8 649.6,348.5 Z" fill="#111"/>
<line x1="698" y1="336" x2="709.8" y2="336.0" stroke="#8c8c8c" stroke-width="1.5"/>
<path d="M718.8,336.0 L708.8,338.4 Q707.5,336.0 708.8,333.6 Z" fill="#111"/>
<line x1="692.8" y1="458" x2="692.8" y2="468.9" stroke="#8c8c8c" stroke-width="1.5"/>
<path d="M692.8,478.9 L690.4,467.9 Q692.8,466.6 695.2,467.9 Z" fill="#111"/>
<line x1="673.75" y1="500" x2="662.0" y2="500.0" stroke="#8c8c8c" stroke-width="1.5"/>
<path d="M653.0,500.0 L663.0,497.6 Q664.3,500.0 663.0,502.4 Z" fill="#111"/>
<line x1="645" y1="542.7" x2="633.2" y2="542.7" stroke="#8c8c8c" stroke-width="1.5"/>
<path d="M624.2,542.7 L634.2,540.3 Q635.5,542.7 634.2,545.1 Z" fill="#111"/>
<line x1="509" y1="395.6" x2="515.0" y2="395.6" stroke="#8c8c8c" stroke-width="1.0"/>
<path d="M519.5,395.6 L514.0,397.0 Q512.7,395.6 514.0,394.2 Z" fill="#111"/>
<line x1="519.8" y1="437.8" x2="514.2" y2="437.8" stroke="#8c8c8c" stroke-width="1.0"/>
<path d="M509.7,437.8 L515.2,436.4 Q516.5,437.8 515.2,439.2 Z" fill="#111"/>
<line x1="738.9" y1="395.6" x2="746.2" y2="395.6" stroke="#8c8c8c" stroke-width="1.0"/>
<path d="M750.7,395.6 L745.2,397.0 Q743.9,395.6 745.2,394.2 Z" fill="#111"/>
<line x1="751.4" y1="437" x2="744.5" y2="437.0" stroke="#8c8c8c" stroke-width="1.0"/>
<path d="M740.0,437.0 L745.5,435.6 Q746.8,437.0 745.5,438.4 Z" fill="#111"/>
<g opacity="0.985">
<text x="200.5" y="50.4" text-anchor="middle" font-family="Liberation Serif" font-weight="bold" font-size="10" fill="#262626" stroke="#262626" stroke-width="0.3">Control</text>
<text x="200.5" y="60.2" text-anchor="middle" font-family="Liberation Serif" font-weight="bold" font-size="10" fill="#262626" stroke="#262626" stroke-width="0.3">rods</text>
<text x="131.7" y="118" text-anchor="start" font-family="Liberation Serif" font-weight="bold" font-size="10" fill="#262626" stroke="#262626" stroke-width="0.3">Reactor</text>
<text x="267.3" y="108.3" text-anchor="start" font-family="Liberation Serif" font-weight="bold" font-size="10" fill="#262626" stroke="#262626" stroke-width="0.3">Coolant salt</text>
<text x="76.5" y="169.5" text-anchor="middle" font-family="Liberation Serif" font-weight="bold" font-size="10" fill="#262626" stroke="#262626" stroke-width="0.3">Purified</text>
<text x="76.5" y="178.8" text-anchor="middle" font-family="Liberation Serif" font-weight="bold" font-size="10" fill="#262626" stroke="#262626" stroke-width="0.3">salt</text>
<text x="136.5" y="286" text-anchor="start" font-family="Liberation Serif" font-weight="bold" font-size="10" fill="#262626" stroke="#262626" stroke-width="0.3">Fuel salt</text>
<text x="252.5" y="293" text-anchor="start" font-family="Liberation Serif" font-weight="bold" font-size="10" fill="#262626" stroke="#262626" stroke-width="0.3">Pump</text>
<text x="396.3" y="301.9" text-anchor="middle" font-family="Liberation Serif" font-weight="bold" font-size="10" fill="#262626" stroke="#262626" stroke-width="0.3">Heat</text>
<text x="396.3" y="311.8" text-anchor="middle" font-family="Liberation Serif" font-weight="bold" font-size="10" fill="#262626" stroke="#262626" stroke-width="0.3">exchanger</text>
<text x="65.9" y="329" text-anchor="start" font-family="Liberation Serif" font-weight="bold" font-size="10" fill="#262626" stroke="#262626" stroke-width="0.3">Chemical</text>
<text x="65.9" y="339.5" text-anchor="start" font-family="Liberation Serif" font-weight="bold" font-size="10" fill="#262626" stroke="#262626" stroke-width="0.3">processing</text>
<text x="65.9" y="350" text-anchor="start" font-family="Liberation Serif" font-weight="bold" font-size="10" fill="#262626" stroke="#262626" stroke-width="0.3">plant</text>
<text x="215.8" y="402" text-anchor="start" font-family="Liberation Serif" font-weight="bold" font-size="10" fill="#262626" stroke="#262626" stroke-width="0.3">Freeze</text>
<text x="215.8" y="411.6" text-anchor="start" font-family="Liberation Serif" font-weight="bold" font-size="10" fill="#262626" stroke="#262626" stroke-width="0.3">plug</text>
<text x="100.8" y="538.5" text-anchor="start" font-family="Liberation Serif" font-weight="bold" font-size="10" fill="#262626" stroke="#262626" stroke-width="0.3">Emergency dump tanks</text>
<text x="318" y="430" text-anchor="start" font-family="Liberation Serif" font-weight="bold" font-size="10" fill="#262626" stroke="#262626" stroke-width="0.3">Pump</text>
<text x="475.8" y="325.2" text-anchor="middle" font-family="Liberation Serif" font-weight="bold" font-size="10" fill="#262626" stroke="#262626" stroke-width="0.3">Heat</text>
<text x="475.8" y="334.6" text-anchor="middle" font-family="Liberation Serif" font-weight="bold" font-size="10" fill="#262626" stroke="#262626" stroke-width="0.3">exchanger</text>
<text x="538.6" y="114.9" text-anchor="start" font-family="Liberation Serif" font-weight="bold" font-size="10" fill="#262626" stroke="#262626" stroke-width="0.3">Generator</text>
<text x="735.6" y="112.8" text-anchor="middle" font-family="Liberation Serif" font-weight="bold" font-size="10" fill="#262626" stroke="#262626" stroke-width="0.3">Electrical</text>
<text x="735.6" y="122.2" text-anchor="middle" font-family="Liberation Serif" font-weight="bold" font-size="10" fill="#262626" stroke="#262626" stroke-width="0.3">energy</text>
<text x="549.9" y="220.7" text-anchor="start" font-family="Liberation Serif" font-weight="bold" font-size="10" fill="#262626" stroke="#262626" stroke-width="0.3">Turbine</text>
<text x="691.4" y="303.3" text-anchor="start" font-family="Liberation Serif" font-weight="bold" font-size="10" fill="#262626" stroke="#262626" stroke-width="0.3">Recuperator</text>
<text x="529.4" y="351.5" text-anchor="start" font-family="Liberation Serif" font-weight="bold" font-size="10" fill="#262626" stroke="#262626" stroke-width="0.3">Compressor</text>
<text x="514" y="419.8" text-anchor="middle" font-family="Liberation Serif" font-weight="bold" font-size="10" fill="#262626" stroke="#262626" stroke-width="0.3">Heat</text>
<text x="514" y="428.4" text-anchor="middle" font-family="Liberation Serif" font-weight="bold" font-size="10" fill="#262626" stroke="#262626" stroke-width="0.3">sink</text>
<text x="657.5" y="421.8" text-anchor="end" font-family="Liberation Serif" font-weight="bold" font-size="10" fill="#262626" stroke="#262626" stroke-width="0.3">Pre</text>
<text x="657.5" y="431.3" text-anchor="end" font-family="Liberation Serif" font-weight="bold" font-size="10" fill="#262626" stroke="#262626" stroke-width="0.3">cooler</text>
<text x="737.5" y="423.75" text-anchor="start" font-family="Liberation Serif" font-weight="bold" font-size="10" fill="#262626" stroke="#262626" stroke-width="0.3">Heat sink</text>
<text x="486.25" y="462.8" text-anchor="start" font-family="Liberation Serif" font-weight="bold" font-size="10" fill="#262626" stroke="#262626" stroke-width="0.3">Intercooler</text>
<text x="529.4" y="494.2" text-anchor="start" font-family="Liberation Serif" font-weight="bold" font-size="10" fill="#262626" stroke="#262626" stroke-width="0.3">Compressor</text>
</g>
</svg>
</body></html>
